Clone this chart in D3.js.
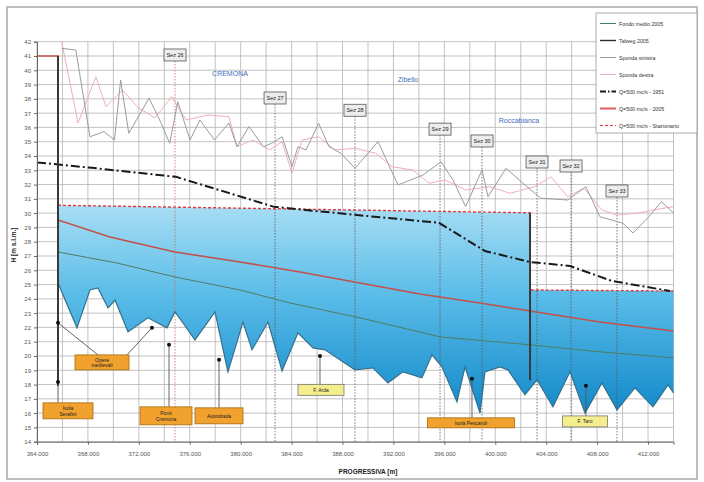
<!DOCTYPE html>
<html><head><meta charset="utf-8">
<script src="https://cdn.jsdelivr.net/npm/d3@7"></script>
<style>body{margin:0;background:#fff}svg{display:block;font-family:"Liberation Sans",Arial,sans-serif}</style>
</head><body><svg id="c" width="704" height="482"></svg>
<script>
// ---------- DATA ----------
const yTicks = d3.range(14, 43);
const xTickValues = [364000,368000,372000,376000,380000,384000,388000,392000,396000,400000,404000,408000,412000];
const xTickLabels = ["364.000","368.000","372.000","376.000","380.000","384.000","388.000","392.000","396.000","400.000","404.000","408.000","412.000"];
const xGrid = d3.range(364000, 414001, 2000);

// Sponda sinistra (gray)
const spondaSinX = [365920,367050,368160,369260,370090,370570,371210,372800,373580,374420,375060,376020,376800,377940,379080,379710,380650,381790,382440,383250,384030,384500,385130,386120,386940,387880,388980,390790,392360,394320,395740,396680,397670,398960,399430,400840,402490,403590,405680,407120,408220,410030,410820,412070,413050,414000];
const spondaSinY = [41.54,41.42,35.35,35.70,35.12,39.32,35.59,38.04,36.64,34.89,37.80,35.12,36.52,35.12,36.31,34.65,36.05,34.65,34.89,35.35,33.25,34.65,34.42,36.29,34.65,34.19,33.14,35.00,31.97,32.67,33.60,32.32,30.45,33.02,31.15,33.14,31.85,31.04,30.92,31.85,29.75,29.29,28.61,29.75,30.80,30.01];
// Sponda destra (pink)
const spondaDesX = [365940,367220,368630,369420,370730,371860,373270,374580,375700,377430,379080,379710,380970,382280,383250,384030,384820,386120,387410,388980,390610,391890,393500,394790,396050,397670,399580,401150,403120,404370,405680,406970,408380,409530,411130,412390,414000];
const spondaDesY = [42.0,36.31,39.55,37.45,38.62,37.45,36.66,38.15,36.52,36.87,36.75,34.65,35.12,34.42,35.00,32.79,35.12,35.35,34.42,34.54,34.19,33.25,33.02,32.09,32.32,31.62,31.85,31.39,31.85,32.55,31.15,31.74,30.22,29.87,29.99,30.22,30.45];
// Talweg 2005
const talwegX = [365650,367140,368160,368790,369580,370130,371150,372720,374210,374840,375470,376410,377980,379000,380180,380890,382150,383250,384500,385680,386620,388980,390390,391570,392750,394240,395030,395810,396990,397620,398800,399190,400370,401000,402330,403280,404530,405870,407050,408380,409560,410970,412390,413570,414000];
const talwegY = [25.11,21.97,24.62,24.76,23.36,23.92,21.69,22.67,21.97,23.08,22.31,21.13,23.08,18.89,22.38,20.43,22.38,18.96,21.62,20.57,20.43,19.03,19.17,18.12,18.89,18.47,20.08,19.24,16.79,19.24,16.00,18.89,19.24,19.03,17.28,18.33,16.44,18.89,16.00,18.12,16.23,17.77,16.44,17.98,17.42];
// Fondo medio 2005
const fondoX = [365650,370280,374840,379950,383870,389370,395660,402730,408220,414000];
const fondoY = [27.28,26.51,25.53,24.62,23.71,22.67,21.34,20.78,20.29,19.87];
// Q=500 mc/s - 1951
const q1951X = [364000,368320,374920,382620,388980,395580,399190,402730,405870,409170,413730];
const q1951Y = [33.55,33.17,32.54,30.44,29.88,29.32,27.35,26.58,26.30,25.25,24.55];
// Q=500 mc/s - 2005
const q2005X = [364000,365650,365650,369730,374840,379950,384660,389370,394080,398800,402730,408220,414000];
const q2005Y = [41.0,41.0,29.52,28.33,27.28,26.58,25.88,25.11,24.34,23.71,23.15,22.38,21.75];
// Stazionario
const stazX = [365650,402730,402730,414000];
const stazY = [30.55,30.02,24.62,24.55];
// Vertical structures (dam / step)
const strutture = [{x:365650, y0:41.0, y1:17.9},{x:402730, y0:30.02, y1:18.3}];

// Sections
const sezNames = ["Sez 26","Sez 27","Sez 28","Sez 29","Sez 30","Sez 31","Sez 32","Sez 33"];
const sezX = [374840,382700,388980,395660,398960,403280,405950,409560];
const sezLabelY = [41.07,38.06,37.2,35.88,35.05,33.58,33.3,31.55];

// Towns
const towns = ["CREMONA","Zibello","Roccabianca"];
const townX = [379160,393140,401860];
const townY = [39.6,39.2,36.3];

// Annotations
const notes = [
  {text:["Isola","Serafini"], kind:"o", bx:366435, by:16.16, w:50, h:16, pts:[[365650,18.18]]},
  {text:["Opere","medievali"], kind:"o", bx:369106, by:19.55, w:54, h:15, pts:[[365650,22.32],[373030,21.97]]},
  {text:["Ponti","Cremona"], kind:"o", bx:374133, by:15.81, w:52, h:18, pts:[[374370,20.78]]},
  {text:["Autostrada"], kind:"o", bx:378296, by:15.81, w:48, h:16, pts:[[378300,19.73]]},
  {text:["F. Arda"], kind:"y", bx:386308, by:17.63, w:46, h:11, pts:[[386230,20.0]]},
  {text:["Isola Pescaroli"], kind:"o", bx:398091, by:15.32, w:87, h:10, pts:[[398170,18.40]]},
  {text:["F. Taro"], kind:"y", bx:407045, by:15.42, w:45, h:11, pts:[[407120,17.91]]}
];

const legendNames = ["Fondo medio 2005","Talweg 2005","Sponda sinistra","Sponda destra","Q=500 mc/s - 1951","Q=500 mc/s - 2005","Q=500 mc/s - Stazionario"];

// ---------- CHART ----------
const svg = d3.select("#c");
const x = d3.scaleLinear().domain([364000,414000]).range([37,673.5]);
const y = d3.scaleLinear().domain([14,42]).range([441.7,41.7]);
const zip = (X,Y)=>X.map((v,i)=>[v,Y[i]]);
const line = d3.line().x(d=>x(d[0])).y(d=>y(d[1]));

// outer frame
svg.append("rect").attr("x",7).attr("y",7).attr("width",690).attr("height",472)
  .attr("fill","#fff").attr("stroke","#a8a8a8").attr("stroke-width",1.5);

// gradient
const defs = svg.append("defs");
const g = defs.append("linearGradient").attr("id","water").attr("gradientUnits","userSpaceOnUse")
  .attr("x1",0).attr("x2",0).attr("y1",y(31)).attr("y2",y(16));
g.append("stop").attr("offset",0).attr("stop-color","#ade0f5");
g.append("stop").attr("offset",0.45).attr("stop-color","#5abce8");
g.append("stop").attr("offset",1).attr("stop-color","#1289c9");

// grid
svg.append("g").selectAll("line").data(yTicks).join("line")
  .attr("x1",x(364000)).attr("x2",x(414000)).attr("y1",d=>y(d)).attr("y2",d=>y(d))
  .attr("stroke","#b4b4b4").attr("stroke-width",0.8);
svg.append("g").selectAll("line").data(xGrid).join("line")
  .attr("x1",d=>x(d)).attr("x2",d=>x(d)).attr("y1",y(42)).attr("y2",y(14))
  .attr("stroke","#b4b4b4").attr("stroke-width",0.8);

// water fill
const poly = zip(stazX,stazY).concat(zip(talwegX,talwegY).reverse());
svg.append("path").attr("d",line(poly)+"Z").attr("fill","url(#water)");

// sections
sezNames.forEach((n,i)=>{
  svg.append("line").attr("x1",x(sezX[i])).attr("x2",x(sezX[i]))
    .attr("y1",y(sezLabelY[i])+6).attr("y2",y(14))
    .attr("stroke",i===0?"#c46a6a":"#555").attr("stroke-width",0.8).attr("stroke-dasharray","1.5,1.5");
});

// sponde
svg.append("path").attr("d",line(zip(spondaDesX,spondaDesY))).attr("fill","none").attr("stroke","#eeb0b7").attr("stroke-width",1);
svg.append("path").attr("d",line(zip(spondaSinX,spondaSinY))).attr("fill","none").attr("stroke","#9c9c9c").attr("stroke-width",1);

// talweg
svg.append("path").attr("d",line(zip(talwegX,talwegY))).attr("fill","none").attr("stroke","#35708d").attr("stroke-width",1.2);
// fondo medio
svg.append("path").attr("d",line(zip(fondoX,fondoY))).attr("fill","none").attr("stroke","#4f7d63").attr("stroke-width",1);
// 2005
svg.append("path").attr("d",line(zip(q2005X,q2005Y))).attr("fill","none").attr("stroke","#c4504a").attr("stroke-width",1.6);
// stazionario dashed
svg.append("path").attr("d",line(zip(stazX,stazY))).attr("fill","none").attr("stroke","#e23b3b").attr("stroke-width",1.4).attr("stroke-dasharray","3,2");
// 1951
svg.append("path").attr("d",line(zip(q1951X,q1951Y))).attr("fill","none").attr("stroke","#1a1a1a").attr("stroke-width",2).attr("stroke-dasharray","9,3,2,3");
// structures
strutture.forEach(s=>{
  svg.append("line").attr("x1",x(s.x)).attr("x2",x(s.x)).attr("y1",y(s.y0)).attr("y2",y(s.y1))
    .attr("stroke","#3a3a3a").attr("stroke-width",2);
});

// axes
const ax = svg.append("g").attr("transform",`translate(0,${y(14)})`)
  .call(d3.axisBottom(x).tickValues(xTickValues).tickFormat((d,i)=>xTickLabels[i]).tickSize(3));
ax.selectAll("text").attr("font-size",6).attr("fill","#555").attr("dy","1.4em");
const ay = svg.append("g").attr("transform",`translate(${x(364000)},0)`)
  .call(d3.axisLeft(y).tickValues(yTicks).tickSize(3));
ay.selectAll("text").attr("font-size",6).attr("fill","#555");
svg.selectAll(".domain").attr("stroke","#666");
svg.selectAll(".tick line").attr("stroke","#666");

// axis titles
svg.append("text").attr("x",368).attr("y",474).attr("text-anchor","middle")
  .attr("font-size",6.5).attr("font-weight","bold").attr("fill","#222").text("PROGRESSIVA [m]");
svg.append("text").attr("transform","translate(16,245) rotate(-90)").attr("text-anchor","middle")
  .attr("font-size",6.5).attr("font-weight","bold").attr("fill","#222").text("H [m s.l.m.]");

// section labels
sezNames.forEach((n,i)=>{
  const cx=x(sezX[i]), cy=y(sezLabelY[i]);
  svg.append("rect").attr("x",cx-11).attr("y",cy-6).attr("width",22).attr("height",12)
    .attr("fill","#ececec").attr("stroke","#555").attr("stroke-width",0.8);
  svg.append("text").attr("x",cx).attr("y",cy+2).attr("text-anchor","middle")
    .attr("font-size",5.5).attr("fill","#222").text(n);
});

// towns
towns.forEach((t,i)=>{
  svg.append("text").attr("x",x(townX[i])).attr("y",y(townY[i])).attr("text-anchor","middle")
    .attr("font-size",7).attr("fill","#3f6fc2").text(t);
});

// annotations
notes.forEach(n=>{
  const bx=x(n.bx), by=y(n.by);
  n.pts.forEach(p=>{
    const px=x(p[0]), py=y(p[1]);
    const tx = n.pts.length>1 ? (px<bx ? bx-4 : bx+n.w/2-2) : px;
    svg.append("line").attr("x1",px).attr("y1",py).attr("x2",tx).attr("y2",by-n.h/2)
      .attr("stroke","#555").attr("stroke-width",0.9);
    svg.append("circle").attr("cx",px).attr("cy",py).attr("r",2).attr("fill","#111");
  });
  svg.append("rect").attr("x",bx-n.w/2).attr("y",by-n.h/2).attr("width",n.w).attr("height",n.h)
    .attr("fill",n.kind==="y"?"#f4ee8c":"#f0a12e").attr("stroke",n.kind==="y"?"#777":"#a86a10").attr("stroke-width",0.8);
  const lh=5.5;
  n.text.forEach((t,j)=>{
    svg.append("text").attr("x",bx).attr("y",by+2-(n.text.length-1)*lh/2+j*lh).attr("text-anchor","middle")
      .attr("font-size",5).attr("fill","#222").text(t);
  });
});

// legend
const lg = svg.append("g");
lg.append("rect").attr("x",596).attr("y",13).attr("width",101).attr("height",120)
  .attr("fill","#fff").attr("stroke","#999").attr("stroke-width",0.8);
const lstyles = [
  {c:"#4f7d63",w:1,d:null},
  {c:"#2a2a2a",w:1.4,d:null},
  {c:"#9c9c9c",w:1,d:null},
  {c:"#eeb0b7",w:1,d:null},
  {c:"#1a1a1a",w:2,d:"6,2,1.5,2"},
  {c:"#e05a5a",w:2,d:null},
  {c:"#e23b3b",w:1.2,d:"3,2"}
];
legendNames.forEach((nm,i)=>{
  const ly = 23.5 + i*17;
  lg.append("line").attr("x1",600).attr("x2",616).attr("y1",ly).attr("y2",ly)
    .attr("stroke",lstyles[i].c).attr("stroke-width",lstyles[i].w).attr("stroke-dasharray",lstyles[i].d);
  lg.append("text").attr("x",619).attr("y",ly+2).attr("font-size",5.3).attr("fill","#333").text(nm);
});
</script>
</body></html>
